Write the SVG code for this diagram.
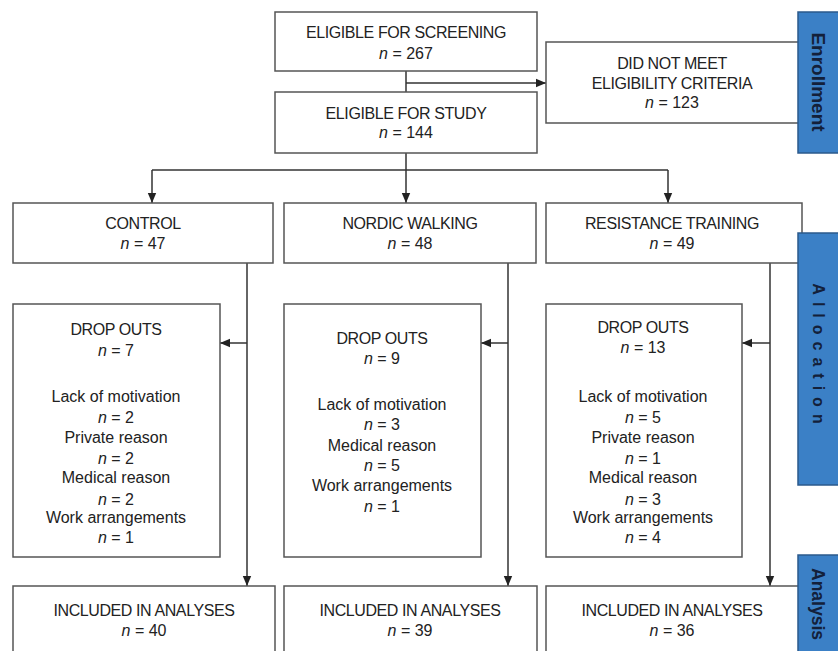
<svg xmlns="http://www.w3.org/2000/svg" width="838" height="651" viewBox="0 0 838 651">
<style>
.box{fill:#fff;stroke:#555;stroke-width:1.5}
.t{font-family:"Liberation Sans",Arial,sans-serif;font-size:16px;fill:#222;text-anchor:middle}
.c{letter-spacing:-0.4px}
.n{font-style:italic}
.ln{fill:none;stroke:#333;stroke-width:1.5}
.bar{fill:#3b80c6;stroke:#2b5a8c;stroke-width:1.5}
.bt{font-family:"Liberation Sans",Arial,sans-serif;font-weight:bold;fill:#13203a;text-anchor:middle;dominant-baseline:central}
</style>
<defs>
<marker id="ah" markerUnits="userSpaceOnUse" markerWidth="10" markerHeight="10" viewBox="0 0 10 10" refX="10" refY="5" orient="auto">
<path d="M0,0.8 L10,5 L0,9.2 Z" fill="#222"/>
</marker>
</defs>
<rect width="838" height="651" fill="#fff"/>

<g id="connectors">
<line class="ln" x1="406" y1="71" x2="406" y2="92"/>
<line class="ln" x1="406" y1="83" x2="546" y2="83" marker-end="url(#ah)"/>
<line class="ln" x1="406" y1="153" x2="406" y2="170"/>
<line class="ln" x1="152" y1="170" x2="668" y2="170"/>
<line class="ln" x1="152" y1="170" x2="152" y2="203" marker-end="url(#ah)"/>
<line class="ln" x1="406" y1="170" x2="406" y2="203" marker-end="url(#ah)"/>
<line class="ln" x1="668" y1="170" x2="668" y2="203" marker-end="url(#ah)"/>
<line class="ln" x1="247" y1="263" x2="247" y2="586" marker-end="url(#ah)"/>
<line class="ln" x1="508" y1="263" x2="508" y2="586" marker-end="url(#ah)"/>
<line class="ln" x1="770" y1="263" x2="770" y2="586" marker-end="url(#ah)"/>
<line class="ln" x1="247" y1="343" x2="220" y2="343" marker-end="url(#ah)"/>
<line class="ln" x1="508" y1="343" x2="481" y2="343" marker-end="url(#ah)"/>
<line class="ln" x1="770" y1="343" x2="742" y2="343" marker-end="url(#ah)"/>
</g>

<g id="screening">
<rect class="box" x="275" y="12" width="262" height="59"/>
<text class="t c" x="406" y="38">ELIGIBLE FOR SCREENING</text>
<text class="t" x="406" y="59"><tspan class="n">n</tspan> = 267</text>
</g>
<g id="study">
<rect class="box" x="275" y="92" width="262" height="61"/>
<text class="t c" x="406" y="119">ELIGIBLE FOR STUDY</text>
<text class="t" x="406" y="138"><tspan class="n">n</tspan> = 144</text>
</g>
<g id="excluded">
<rect class="box" x="546" y="42" width="256" height="81"/>
<text class="t c" x="672" y="69">DID NOT MEET</text>
<text class="t c" x="672" y="89">ELIGIBILITY CRITERIA</text>
<text class="t" x="672" y="108"><tspan class="n">n</tspan> = 123</text>
</g>

<g id="control">
<rect class="box" x="13" y="203" width="260" height="60"/>
<text class="t c" x="143" y="229">CONTROL</text>
<text class="t" x="143" y="249"><tspan class="n">n</tspan> = 47</text>
</g>
<g id="nordic">
<rect class="box" x="284" y="203" width="252" height="60"/>
<text class="t c" x="410" y="229">NORDIC WALKING</text>
<text class="t" x="410" y="249"><tspan class="n">n</tspan> = 48</text>
</g>
<g id="resistance">
<rect class="box" x="546" y="203" width="256" height="60"/>
<text class="t c" x="672" y="229">RESISTANCE TRAINING</text>
<text class="t" x="672" y="249"><tspan class="n">n</tspan> = 49</text>
</g>

<g id="dropout-control">
<rect class="box" x="13" y="304" width="207" height="253"/>
<text class="t c" x="116" y="335">DROP OUTS</text>
<text class="t" x="116" y="356"><tspan class="n">n</tspan> = 7</text>
<text class="t" x="116" y="402">Lack of motivation</text>
<text class="t" x="116" y="423"><tspan class="n">n</tspan> = 2</text>
<text class="t" x="116" y="443">Private reason</text>
<text class="t" x="116" y="464"><tspan class="n">n</tspan> = 2</text>
<text class="t" x="116" y="483">Medical reason</text>
<text class="t" x="116" y="505"><tspan class="n">n</tspan> = 2</text>
<text class="t" x="116" y="523">Work arrangements</text>
<text class="t" x="116" y="543"><tspan class="n">n</tspan> = 1</text>
</g>
<g id="dropout-nordic">
<rect class="box" x="284" y="304" width="197" height="253"/>
<text class="t c" x="382" y="344">DROP OUTS</text>
<text class="t" x="382" y="364"><tspan class="n">n</tspan> = 9</text>
<text class="t" x="382" y="410">Lack of motivation</text>
<text class="t" x="382" y="430"><tspan class="n">n</tspan> = 3</text>
<text class="t" x="382" y="451">Medical reason</text>
<text class="t" x="382" y="471"><tspan class="n">n</tspan> = 5</text>
<text class="t" x="382" y="491">Work arrangements</text>
<text class="t" x="382" y="512"><tspan class="n">n</tspan> = 1</text>
</g>
<g id="dropout-resistance">
<rect class="box" x="546" y="304" width="196" height="253"/>
<text class="t c" x="643" y="333">DROP OUTS</text>
<text class="t" x="643" y="353"><tspan class="n">n</tspan> = 13</text>
<text class="t" x="643" y="402">Lack of motivation</text>
<text class="t" x="643" y="423"><tspan class="n">n</tspan> = 5</text>
<text class="t" x="643" y="443">Private reason</text>
<text class="t" x="643" y="464"><tspan class="n">n</tspan> = 1</text>
<text class="t" x="643" y="483">Medical reason</text>
<text class="t" x="643" y="505"><tspan class="n">n</tspan> = 3</text>
<text class="t" x="643" y="523">Work arrangements</text>
<text class="t" x="643" y="543"><tspan class="n">n</tspan> = 4</text>
</g>

<g id="included-control">
<rect class="box" x="13" y="586" width="262" height="80"/>
<text class="t c" x="144" y="616">INCLUDED IN ANALYSES</text>
<text class="t" x="144" y="636"><tspan class="n">n</tspan> = 40</text>
</g>
<g id="included-nordic">
<rect class="box" x="284" y="586" width="253" height="80"/>
<text class="t c" x="410" y="616">INCLUDED IN ANALYSES</text>
<text class="t" x="410" y="636"><tspan class="n">n</tspan> = 39</text>
</g>
<g id="included-resistance">
<rect class="box" x="546" y="586" width="256" height="80"/>
<text class="t c" x="672" y="616">INCLUDED IN ANALYSES</text>
<text class="t" x="672" y="636"><tspan class="n">n</tspan> = 36</text>
</g>

<g id="bar-enrollment">
<rect class="bar" x="798" y="12" width="44" height="141"/>
<text class="bt" font-size="19" transform="translate(818 82) rotate(90)">Enrollment</text>
</g>
<g id="bar-allocation">
<rect class="bar" x="798" y="233" width="44" height="252"/>
<text class="bt" font-size="16" letter-spacing="7" transform="translate(818 357) rotate(90)">Allocation</text>
</g>
<g id="bar-analysis">
<rect class="bar" x="798" y="555" width="44" height="110"/>
<text class="bt" font-size="17.5" transform="translate(818 604) rotate(90)">Analysis</text>
</g>
</svg>
